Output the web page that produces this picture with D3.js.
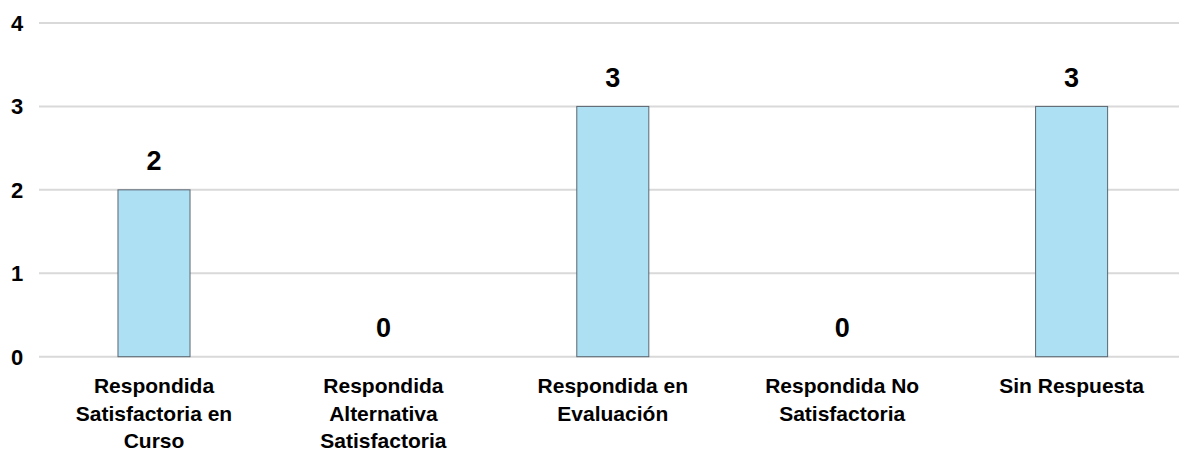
<!DOCTYPE html>
<html>
<head>
<meta charset="utf-8">
<script src="https://cdn.jsdelivr.net/npm/d3@7"></script>
<style>
  html, body { margin: 0; padding: 0; background: #ffffff; }
  svg { display: block; font-family: "Liberation Sans", Arial, sans-serif; }
</style>
</head>
<body>
<svg id="chart" width="1179" height="453"></svg>
<script>
// Requests grouped by response status
const categories = [
  ["Respondida", "Satisfactoria en", "Curso"],
  ["Respondida", "Alternativa", "Satisfactoria"],
  ["Respondida en", "Evaluación"],
  ["Respondida No", "Satisfactoria"],
  ["Sin Respuesta"]
];
const values = [2, 0, 3, 0, 3];
const yTicks = [0, 1, 2, 3, 4];

const W = 1179, H = 453;
const svg = d3.select("#chart");

const x = d3.scaleBand()
  .domain(d3.range(categories.length))
  .range([39.3, 1186.3])
  .paddingInner(0.686)
  .paddingOuter(0.343);

const y = d3.scaleLinear().domain([0, 4]).range([356.7, 23]);

// Horizontal gridlines
svg.append("g")
  .selectAll("line")
  .data(yTicks)
  .join("line")
  .attr("x1", 39)
  .attr("x2", W)
  .attr("y1", d => y(d))
  .attr("y2", d => y(d))
  .attr("stroke", "#d9d9d9")
  .attr("stroke-width", 2);

// Y axis labels
svg.append("g")
  .selectAll("text")
  .data(yTicks)
  .join("text")
  .attr("x", 17)
  .attr("y", d => y(d))
  .attr("dy", "0.36em")
  .attr("text-anchor", "middle")
  .attr("font-size", 22)
  .attr("font-weight", "bold")
  .attr("fill", "#000")
  .text(d => d);

// Bars
svg.append("g")
  .selectAll("rect")
  .data(values)
  .join("rect")
  .attr("x", (d, i) => x(i))
  .attr("y", d => y(d))
  .attr("width", x.bandwidth())
  .attr("height", d => y(0) - y(d))
  .attr("fill", "#aee0f4")
  .attr("stroke", "#5b6570")
  .attr("stroke-width", 1)
  .attr("display", d => d > 0 ? null : "none");

// Value labels above bars
svg.append("g")
  .selectAll("text")
  .data(values)
  .join("text")
  .attr("x", (d, i) => x(i) + x.bandwidth() / 2)
  .attr("y", d => y(d) - 19.5)
  .attr("text-anchor", "middle")
  .attr("font-size", 27)
  .attr("font-weight", "bold")
  .attr("fill", "#000")
  .text(d => d);

// Category labels (multi-line)
const cat = svg.append("g")
  .selectAll("text")
  .data(categories)
  .join("text")
  .attr("x", (d, i) => x(i) + x.bandwidth() / 2)
  .attr("y", 393)
  .attr("text-anchor", "middle")
  .attr("font-size", 21)
  .attr("font-weight", "bold")
  .attr("fill", "#000");

cat.selectAll("tspan")
  .data(d => d)
  .join("tspan")
  .attr("x", function () { return d3.select(this.parentNode).attr("x"); })
  .attr("dy", (d, j) => j === 0 ? 0 : 27.5)
  .text(d => d);
</script>
</body>
</html>
